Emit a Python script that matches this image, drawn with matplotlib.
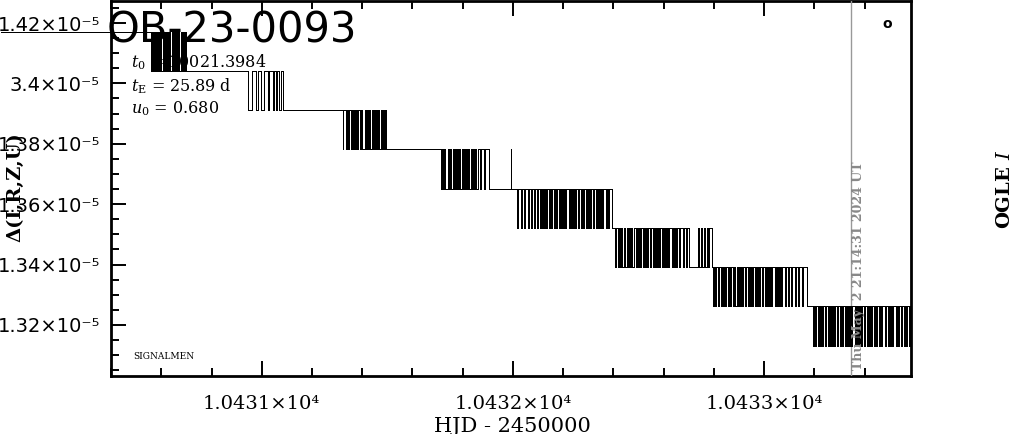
import matplotlib.pyplot as plt
from matplotlib.ticker import MultipleLocator

plt.rcParams['mathtext.fontset'] = 'dejavuserif'

# quantised Delta levels, top to bottom
levels = [1.41708e-5, 1.40425e-5, 1.39131e-5, 1.37828e-5, 1.36501e-5,
          1.35207e-5, 1.33934e-5, 1.32620e-5, 1.31294e-5]

# HJD-2450000 where the curve flips between two neighbouring levels
flips_a = [10430.559, 10430.562, 10430.567, 10430.570, 10430.575, 10430.578, 10430.583, 10430.588, 10430.591, 10430.596,
           10430.600, 10430.605, 10430.609, 10430.614, 10430.618, 10430.623, 10430.627, 10430.632, 10430.636, 10430.641,
           10430.645, 10430.650, 10430.654, 10430.659, 10430.663, 10430.668, 10430.672, 10430.677, 10430.681, 10430.686,
           10430.690, 10430.695, 10430.698]
flips_b = [10430.944, 10430.963, 10430.976, 10430.985, 10430.999, 10431.009, 10431.023, 10431.029, 10431.043, 10431.049,
           10431.056, 10431.062, 10431.069, 10431.076, 10431.083]
flips_c = [10431.322, 10431.325, 10431.336, 10431.340, 10431.345, 10431.349, 10431.354, 10431.358, 10431.363, 10431.367,
           10431.372, 10431.376, 10431.381, 10431.385, 10431.390, 10431.394, 10431.399, 10431.410, 10431.414, 10431.419,
           10431.423, 10431.428, 10431.432, 10431.437, 10431.441, 10431.446, 10431.450, 10431.455, 10431.459, 10431.464,
           10431.468, 10431.473, 10431.477, 10431.482, 10431.486, 10431.491, 10431.493]
flips_d = [10431.712, 10431.716, 10431.721, 10431.725, 10431.730, 10431.742, 10431.746, 10431.751, 10431.755, 10431.760,
           10431.764, 10431.769, 10431.773, 10431.778, 10431.782, 10431.787, 10431.791, 10431.796, 10431.800, 10431.805,
           10431.809, 10431.814, 10431.818, 10431.823, 10431.827, 10431.832, 10431.836, 10431.841, 10431.845, 10431.850,
           10431.854, 10431.859, 10431.868, 10431.872, 10431.884, 10431.889, 10431.903, 10431.993, 10431.994]
flips_e = [10432.018, 10432.022, 10432.031, 10432.035, 10432.045, 10432.049, 10432.058, 10432.062, 10432.071, 10432.075,
           10432.084, 10432.088, 10432.097, 10432.101, 10432.106, 10432.110, 10432.115, 10432.119, 10432.124, 10432.128,
           10432.133, 10432.137, 10432.142, 10432.146, 10432.151, 10432.155, 10432.164, 10432.168, 10432.173, 10432.177,
           10432.182, 10432.186, 10432.191, 10432.195, 10432.200, 10432.204, 10432.209, 10432.213, 10432.222, 10432.226,
           10432.231, 10432.235, 10432.240, 10432.244, 10432.249, 10432.253, 10432.258, 10432.262, 10432.271, 10432.275,
           10432.280, 10432.284, 10432.289, 10432.293, 10432.298, 10432.302, 10432.307, 10432.311, 10432.320, 10432.324,
           10432.329, 10432.333, 10432.338, 10432.342, 10432.347, 10432.351, 10432.356, 10432.360, 10432.369, 10432.373,
           10432.378, 10432.382, 10432.396]
flips_f = [10432.408, 10432.412, 10432.417, 10432.421, 10432.426, 10432.430, 10432.435, 10432.444, 10432.448, 10432.453,
           10432.457, 10432.462, 10432.466, 10432.471, 10432.475, 10432.480, 10432.489, 10432.493, 10432.498, 10432.502,
           10432.507, 10432.511, 10432.516, 10432.520, 10432.525, 10432.529, 10432.534, 10432.538, 10432.547, 10432.551,
           10432.556, 10432.560, 10432.565, 10432.569, 10432.574, 10432.578, 10432.583, 10432.587, 10432.592, 10432.596,
           10432.601, 10432.605, 10432.610, 10432.614, 10432.619, 10432.623, 10432.632, 10432.636, 10432.641, 10432.645,
           10432.650, 10432.654, 10432.663, 10432.667, 10432.676, 10432.680, 10432.689, 10432.693, 10432.700,
           10432.738, 10432.742, 10432.749, 10432.753, 10432.760, 10432.764, 10432.771, 10432.775, 10432.782, 10432.793]
flips_g = [10432.797, 10432.801, 10432.806, 10432.810, 10432.815, 10432.819, 10432.828, 10432.832, 10432.837, 10432.841,
           10432.846, 10432.850, 10432.855, 10432.859, 10432.864, 10432.868, 10432.877, 10432.881, 10432.886, 10432.890,
           10432.895, 10432.899, 10432.904, 10432.908, 10432.913, 10432.917, 10432.922, 10432.926, 10432.935, 10432.939,
           10432.944, 10432.948, 10432.953, 10432.957, 10432.962, 10432.966, 10432.971, 10432.975, 10432.980, 10432.984,
           10432.993, 10432.997, 10433.002, 10433.006, 10433.011, 10433.015, 10433.020, 10433.024, 10433.029, 10433.033,
           10433.042, 10433.046, 10433.051, 10433.055, 10433.060, 10433.064, 10433.069, 10433.073, 10433.082, 10433.086,
           10433.095, 10433.099, 10433.108, 10433.112, 10433.121, 10433.125, 10433.134, 10433.138, 10433.150, 10433.154,
           10433.171]
flips_h = [10433.195, 10433.199, 10433.204, 10433.208, 10433.213, 10433.217, 10433.222, 10433.226, 10433.231, 10433.235,
           10433.244, 10433.248, 10433.253, 10433.257, 10433.262, 10433.266, 10433.271, 10433.275, 10433.280, 10433.284,
           10433.289, 10433.293, 10433.302, 10433.306, 10433.311, 10433.315, 10433.320, 10433.324, 10433.329, 10433.333,
           10433.338, 10433.342, 10433.347, 10433.351, 10433.360, 10433.364, 10433.369, 10433.373, 10433.378, 10433.382,
           10433.387, 10433.391, 10433.396, 10433.400, 10433.409, 10433.413, 10433.418, 10433.422, 10433.427, 10433.431,
           10433.436, 10433.440, 10433.445, 10433.449, 10433.458, 10433.462, 10433.467, 10433.471, 10433.480, 10433.484,
           10433.493, 10433.497, 10433.502, 10433.506, 10433.511, 10433.515, 10433.524, 10433.528, 10433.533, 10433.537,
           10433.546, 10433.550, 10433.555, 10433.559, 10433.564, 10433.568, 10433.577, 10433.581]
blocks = [flips_a, flips_b, flips_c, flips_d, flips_e, flips_f, flips_g, flips_h]

t_first, t_last = 10429.96, 10433.585
now_hjd = 10433.346

yticks = [1.32e-5, 1.34e-5, 1.36e-5, 1.38e-5, 1.40e-5, 1.42e-5]
ylabels = ['1.32×10⁻⁵', '1.34×10⁻⁵', '1.36×10⁻⁵', '1.38×10⁻⁵', '3.4×10⁻⁵', '1.42×10⁻⁵']
xticks = [10431, 10432, 10433]
xlabels = ['1.0431×10⁴', '1.0432×10⁴', '1.0433×10⁴']

# build the step curve
hjd = [t_first]
delta = [levels[0]]
cur = levels[0]
for i, flips in enumerate(blocks):
    upper, lower = levels[i], levels[i + 1]
    cur = upper
    for t in flips:
        cur = lower if cur == upper else upper
        hjd.append(t)
        delta.append(cur)
hjd.append(t_last)
delta.append(cur)

fig = plt.figure(figsize=(10.14, 4.34), dpi=100)
ax = fig.add_axes([0.1095, 0.1325, 0.789, 0.8643])

ax.plot(hjd, delta, color='black', lw=0.7, drawstyle='steps-post',
        antialiased=False, clip_on=False, zorder=4)
ax.axvline(now_hjd, color='#999999', lw=1, zorder=3)

ax.set_xlim(10430.4, t_last)
ax.set_ylim(1.30292e-5, 1.42716e-5)

ax.set_xticks(xticks, labels=xlabels, family='DejaVu Serif', fontsize=14)
ax.set_yticks(yticks, labels=ylabels, family='DejaVu Sans', fontsize=14)
ax.xaxis.set_minor_locator(MultipleLocator(0.2))
ax.yaxis.set_minor_locator(MultipleLocator(0.005e-5))
ax.tick_params(which='both', direction='in', top=True, right=False, width=1.4)
ax.tick_params(which='major', length=11)
ax.tick_params(which='minor', length=6)
ax.tick_params(axis='x', pad=13)
ax.tick_params(axis='y', pad=8)
for s in ax.spines.values():
    s.set_linewidth(2)

ax.text(-0.006, 0.922, 'OB-23-0093', transform=ax.transAxes, fontsize=30,
        family='DejaVu Sans', va='center', ha='left', zorder=2)
ax.text(0.025, 0.837, r'$t_0$ = 10021.3984', transform=ax.transAxes,
        fontsize=11.5, family='DejaVu Serif', va='center', zorder=2)
ax.text(0.025, 0.773, r'$t_{\rm E}$ = 25.89 d', transform=ax.transAxes,
        fontsize=11.5, family='DejaVu Serif', va='center', zorder=2)
ax.text(0.025, 0.714, r'$u_0$ = 0.680', transform=ax.transAxes,
        fontsize=11.5, family='DejaVu Serif', va='center', zorder=2)
ax.text(0.0275, 0.0535, 'SIGNALMEN', transform=ax.transAxes, fontsize=6.5,
        family='DejaVu Serif', va='center')
ax.text(0.97, 0.941, 'o', transform=ax.transAxes, fontsize=10,
        fontweight='bold', ha='center', va='center')
ax.text(10433.375, 1.3051e-5, 'Thu May  2 21:14:31 2024 UT', rotation=90,
        color='#888888', fontsize=9, fontweight='bold', family='DejaVu Serif',
        ha='center', va='bottom', zorder=5)

fig.text(0.505, 0.018, 'HJD - 2450000', ha='center', va='center',
         family='DejaVu Serif', fontsize=15)
fig.text(0.0148, 0.569, 'Δ(I,R,Z,U)', rotation=90, ha='center', va='center',
         family='DejaVu Serif', fontweight='bold', fontsize=14)
fig.text(0.991, 0.5645, r'OGLE $I$', rotation=90, ha='center', va='center',
         family='DejaVu Serif', fontweight='bold', fontsize=14)

fig.savefig('out.png', dpi=100)
